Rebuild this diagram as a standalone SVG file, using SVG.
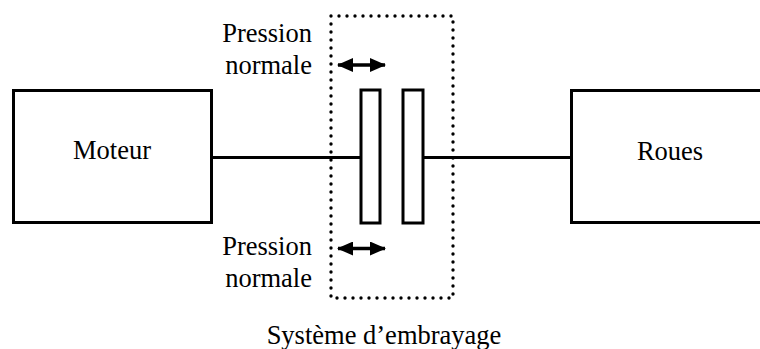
<svg xmlns="http://www.w3.org/2000/svg" width="760" height="349" viewBox="0 0 760 349">
<style>
.box{fill:#fff;stroke:#000;stroke-width:3}
.plate{fill:#fff;stroke:#000;stroke-width:3}
.shaft{stroke:#000;stroke-width:3;fill:none}
.dot{fill:none;stroke:#000;stroke-width:3.4;stroke-linecap:round;stroke-dasharray:0 8}
.t{font-family:'Liberation Serif','Times New Roman',serif;font-size:26.5px;fill:#000}
.arr{stroke:#000;stroke-width:3.5;fill:none}
</style>
<defs>
<marker id="ah" viewBox="0 0 16 14" refX="15" refY="7" markerWidth="16" markerHeight="14" markerUnits="userSpaceOnUse" orient="auto-start-reverse">
<path d="M0,0 L16,7 L0,14 Z" fill="#000"/>
</marker>
</defs>
<g id="connectors">
<line class="shaft" x1="212" y1="157.5" x2="361" y2="157.5"/>
<line class="shaft" x1="424" y1="157.5" x2="571" y2="157.5"/>
<line class="arr" x1="338" y1="65" x2="385" y2="65" marker-start="url(#ah)" marker-end="url(#ah)"/>
<line class="arr" x1="338" y1="248.5" x2="385" y2="248.5" marker-start="url(#ah)" marker-end="url(#ah)"/>
</g>
<g id="moteur">
<rect class="box" x="13.5" y="90.5" width="198" height="132"/>
<text class="t" x="112" y="159" text-anchor="middle">Moteur</text>
</g>
<g id="roues">
<rect class="box" x="571.5" y="90.5" width="200" height="132"/>
<text class="t" x="670" y="160" text-anchor="middle">Roues</text>
</g>
<g id="embrayage">
<rect class="dot" x="331" y="16" width="122" height="282"/>
<rect class="plate" x="361" y="90" width="19" height="133"/>
<rect class="plate" x="403" y="90" width="20" height="133"/>
<text class="t" x="384" y="344" text-anchor="middle">Système d’embrayage</text>
</g>
<g id="pression-haut">
<text class="t" x="312" y="42" text-anchor="end">Pression</text>
<text class="t" x="312" y="73.5" text-anchor="end">normale</text>
</g>
<g id="pression-bas">
<text class="t" x="312" y="255" text-anchor="end">Pression</text>
<text class="t" x="312" y="287" text-anchor="end">normale</text>
</g>
</svg>
